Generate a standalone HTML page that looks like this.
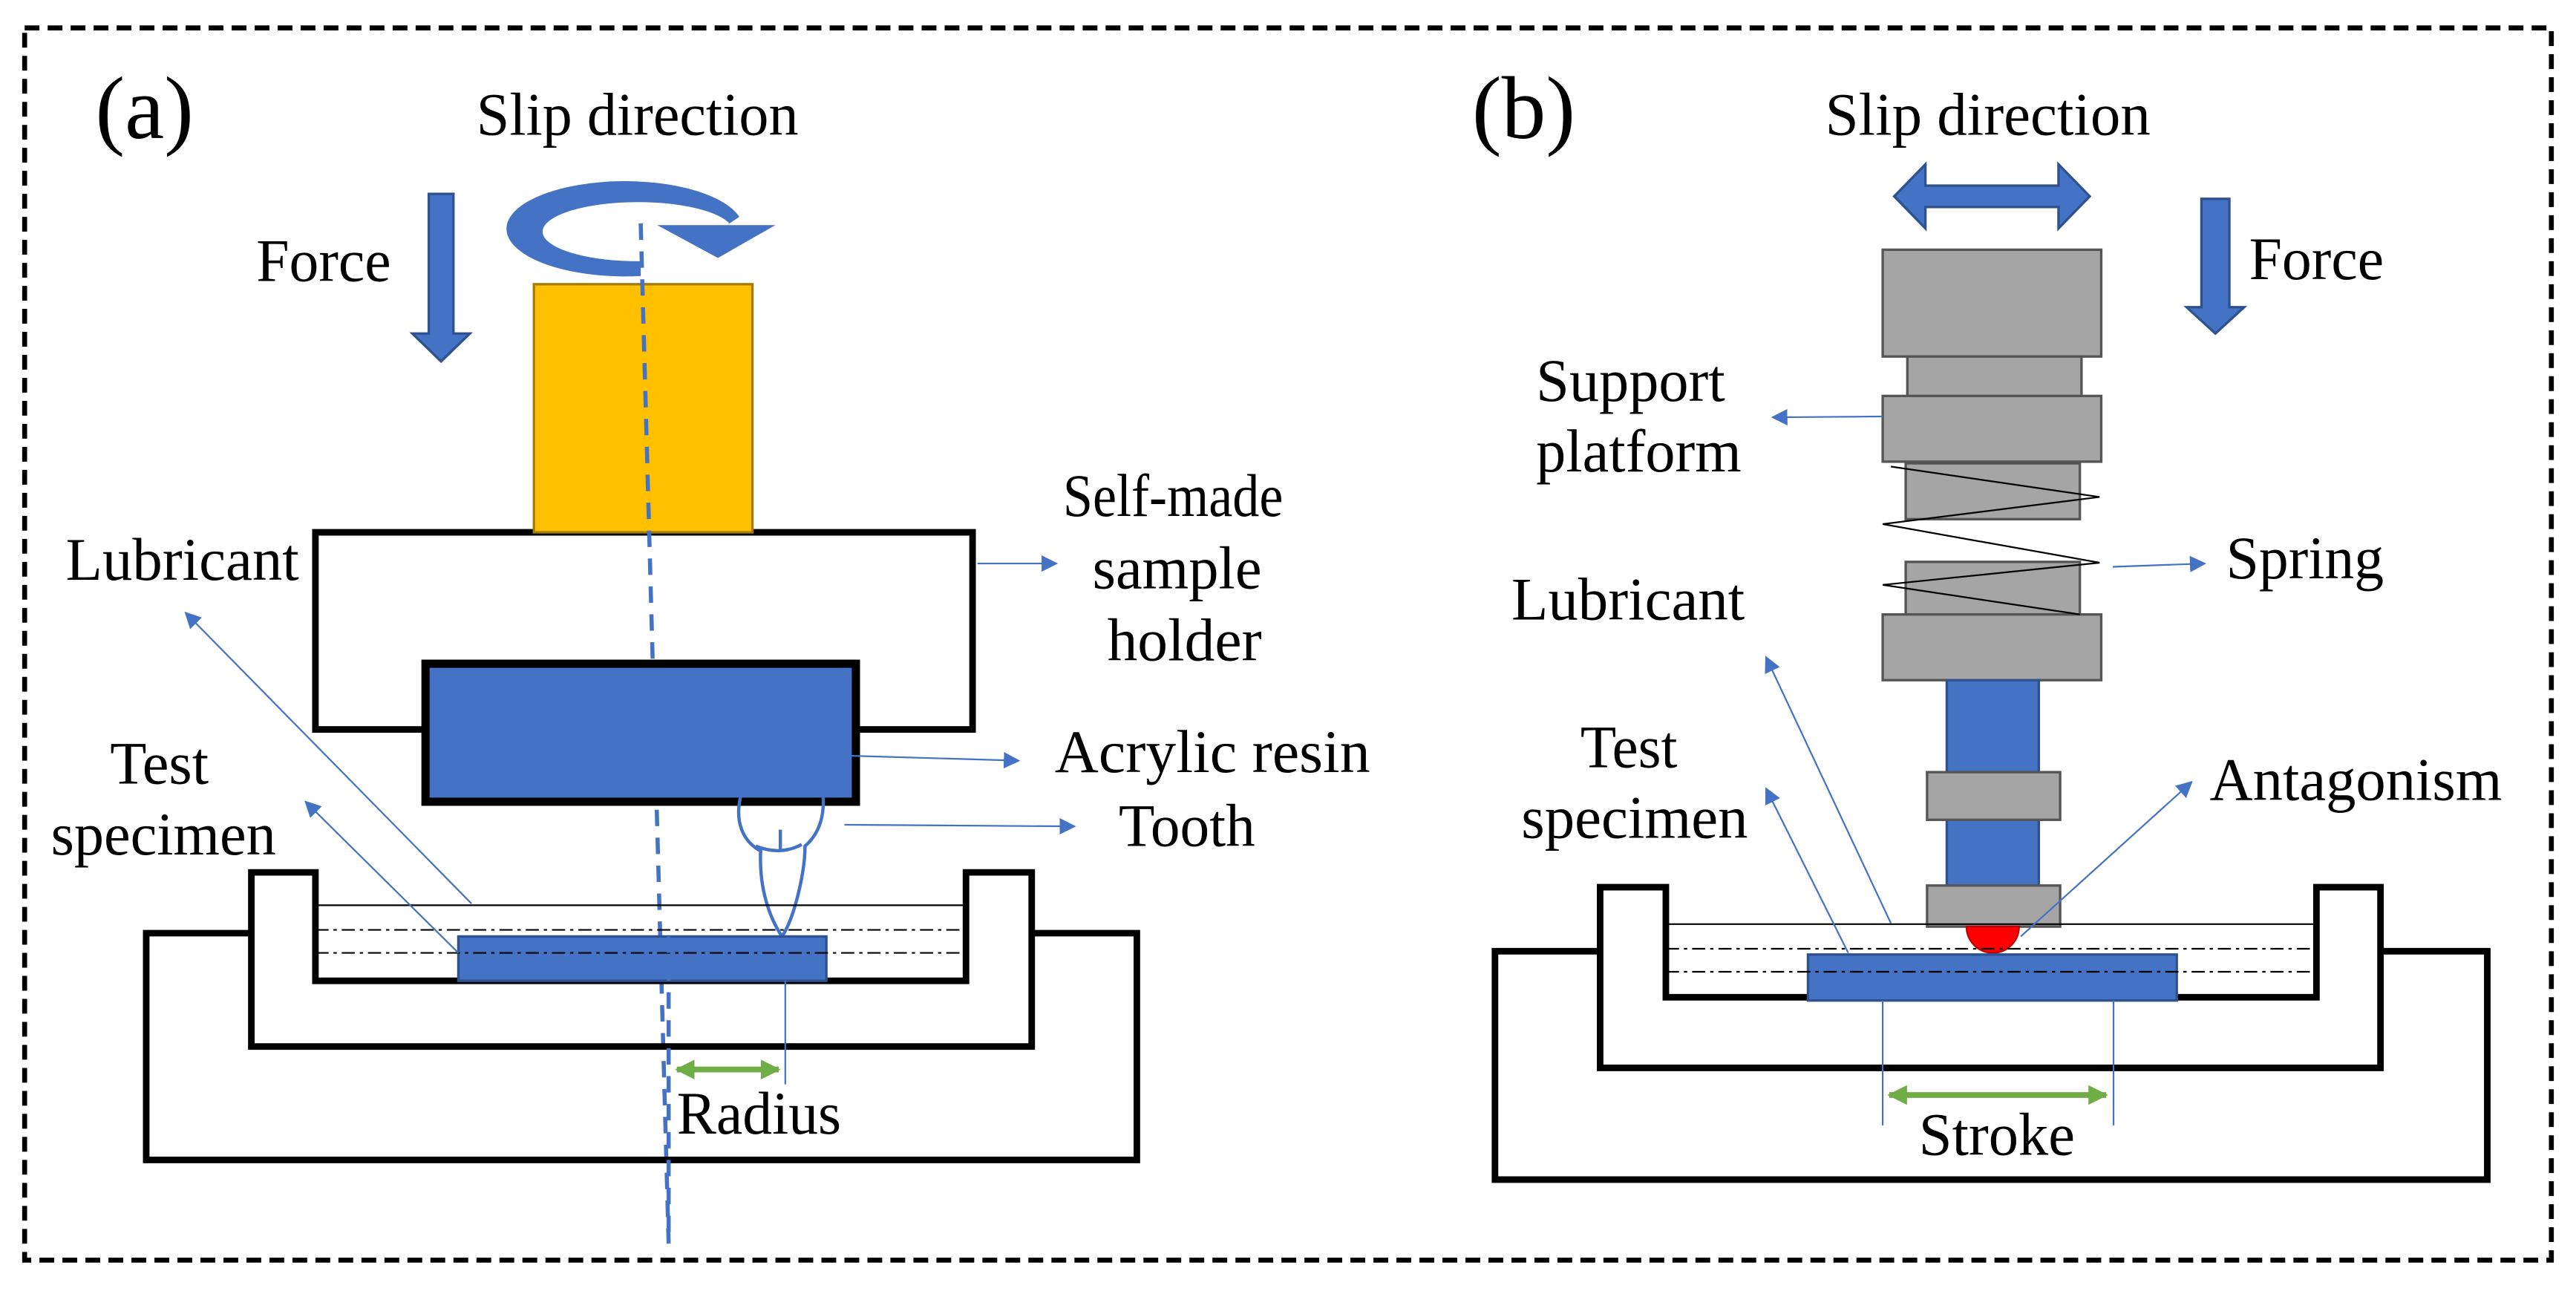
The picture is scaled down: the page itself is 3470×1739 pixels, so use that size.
<!DOCTYPE html>
<html><head><meta charset="utf-8"><style>html,body{margin:0;padding:0;background:#fff}svg{display:block}text{font-family:"Liberation Serif",serif}</style></head>
<body>
<svg width="3470" height="1739" viewBox="0 0 1568 785.8" xmlns="http://www.w3.org/2000/svg" font-family="'Liberation Serif', serif" font-size="37">
<defs>
<marker id="ab" viewBox="0 0 10 10" refX="9" refY="5" markerWidth="10" markerHeight="10" markerUnits="userSpaceOnUse" orient="auto"><path d="M0,0 L10,5 L0,10 z" fill="#4472C4"/></marker>
<marker id="ag" viewBox="0 0 10 10" refX="9" refY="5" markerWidth="12" markerHeight="12" markerUnits="userSpaceOnUse" orient="auto-start-reverse"><path d="M0,0 L10,5 L0,10 z" fill="#70AD47"/></marker>
</defs>
<rect x="15" y="17" width="1538" height="750" fill="none" stroke="#000" stroke-width="3" stroke-dasharray="9,5"/>

<!-- ===== Panel (a) ===== -->
<text x="58" y="84" font-size="54">(a)</text>
<text x="290" y="82" textLength="196" lengthAdjust="spacingAndGlyphs">Slip direction</text>
<text x="156" y="171" textLength="82" lengthAdjust="spacingAndGlyphs">Force</text>
<path d="M261,118 H276 V203 H286 L268.5,220 L251,203 H261 Z" fill="#4472C4" stroke="#2F528F" stroke-width="1.5"/>
<path d="M390,168 A72,29 0 1,1 450,132 L444,136 A58,18 0 1,0 390,159 Z" fill="#4472C4"/>
<path d="M400,137 L472,137 L437,157 Z" fill="#4472C4"/>
<rect x="192" y="324" width="400" height="120" fill="#fff" stroke="#000" stroke-width="4"/>
<rect x="325" y="173" width="133" height="151" fill="#FFC000" stroke="#A57C00" stroke-width="1.5"/>
<line x1="390" y1="136" x2="407" y2="757" stroke="#4472C4" stroke-width="2.5" stroke-dasharray="10,7"/>
<rect x="259" y="404" width="262" height="84" fill="#4472C4" stroke="#000" stroke-width="5"/>
<g fill="none" stroke="#4472C4" stroke-width="2">
<path d="M451,484 C447,500 452,512 463,518 C462,540 468,558 476,570 C484,558 490,530 490,515 C498,508 502,498 501,484"/>
<path d="M460,515 Q475,521 488,514"/><path d="M475,505 L475,518"/>
</g>
<polyline points="153,568 89,568 89,706 692,706 692,568 628,568" fill="none" stroke="#000" stroke-width="4"/>
<polygon points="153,531 192,531 192,597 588,597 588,531 628,531 628,637 153,637" fill="none" stroke="#000" stroke-width="4"/>
<line x1="192" y1="551" x2="588" y2="551" stroke="#000" stroke-width="1"/>
<rect x="279" y="570" width="224" height="27" fill="#4472C4" stroke="#2F528F" stroke-width="1.5"/>
<g stroke="#000" stroke-width="1" stroke-dasharray="8,3,2,3"><line x1="192" y1="566" x2="588" y2="566"/><line x1="192" y1="580" x2="588" y2="580"/></g>
<line x1="407" y1="570" x2="407" y2="757" stroke="#4472C4" stroke-width="2.5" stroke-dasharray="10,7"/>
<line x1="478" y1="597" x2="478" y2="660" stroke="#4472C4" stroke-width="1"/>
<line x1="412" y1="651" x2="474" y2="651" stroke="#70AD47" stroke-width="3.5" marker-start="url(#ag)" marker-end="url(#ag)"/>
<text x="412" y="690" textLength="100" lengthAdjust="spacingAndGlyphs">Radius</text>
<text x="40" y="353" textLength="142" lengthAdjust="spacingAndGlyphs">Lubricant</text>
<text x="67" y="477" textLength="60" lengthAdjust="spacingAndGlyphs">Test</text>
<text x="31" y="520" textLength="137" lengthAdjust="spacingAndGlyphs">specimen</text>
<text x="647" y="314" textLength="134" lengthAdjust="spacingAndGlyphs">Self-made</text>
<text x="665" y="358" textLength="103" lengthAdjust="spacingAndGlyphs">sample</text>
<text x="674" y="402" textLength="94" lengthAdjust="spacingAndGlyphs">holder</text>
<text x="642" y="470" textLength="192" lengthAdjust="spacingAndGlyphs">Acrylic resin</text>
<text x="681" y="515" textLength="83" lengthAdjust="spacingAndGlyphs">Tooth</text>
<g stroke="#4472C4" stroke-width="1" fill="none" marker-end="url(#ab)">
<line x1="287" y1="550" x2="113" y2="373"/>
<line x1="279" y1="580" x2="186" y2="488"/>
<line x1="595" y1="343" x2="643" y2="343"/>
<line x1="517" y1="460" x2="620" y2="463"/>
<line x1="514" y1="502" x2="654" y2="503"/>
</g>

<!-- ===== Panel (b) ===== -->
<text x="896" y="84" font-size="54">(b)</text>
<text x="1111" y="82" textLength="198" lengthAdjust="spacingAndGlyphs">Slip direction</text>
<path d="M1153,119.5 L1172,100 V113 H1253 V100 L1272,119.5 L1253,139 V126 H1172 V139 Z" fill="#4472C4" stroke="#2F528F" stroke-width="1.5"/>
<path d="M1340,121 H1357 V187 H1366 L1348.5,203 L1331,187 H1340 Z" fill="#4472C4" stroke="#2F528F" stroke-width="1.5"/>
<text x="1369" y="170" textLength="82" lengthAdjust="spacingAndGlyphs">Force</text>
<g fill="#A5A5A5" stroke="#555" stroke-width="1.5">
<rect x="1146" y="152" width="133" height="65"/>
<rect x="1161" y="217" width="106" height="26"/>
<rect x="1146" y="241" width="133" height="40"/>
<rect x="1160" y="282" width="106" height="34"/>
<rect x="1160" y="342" width="106" height="33"/>
<rect x="1146" y="374" width="133" height="40"/>
</g>
<rect x="1185" y="414" width="56" height="126" fill="#4472C4" stroke="#2F528F" stroke-width="1.5"/>
<g fill="#A5A5A5" stroke="#555" stroke-width="1.5">
<rect x="1173" y="470" width="81" height="29"/>
<rect x="1173" y="539" width="81" height="25"/>
</g>
<polyline points="1151,284 1278,302.5 1146,319 1278,342.5 1146,356 1266,374" fill="none" stroke="#000" stroke-width="1"/>
<path d="M1197,564 A16,16 0 0,0 1229,564 Z" fill="#FF0000" stroke="#C00000" stroke-width="1"/>
<polyline points="974,579 910,579 910,718 1514,718 1514,579 1449,579" fill="none" stroke="#000" stroke-width="4"/>
<polygon points="974,540 1014,540 1014,607 1410,607 1410,540 1449,540 1449,650 974,650" fill="none" stroke="#000" stroke-width="4"/>
<line x1="1014" y1="562.5" x2="1410" y2="562.5" stroke="#000" stroke-width="1"/>
<rect x="1100.5" y="581" width="224.5" height="28" fill="#4472C4" stroke="#2F528F" stroke-width="1.5"/>
<g stroke="#000" stroke-width="1" stroke-dasharray="8,3,2,3"><line x1="1014" y1="577.5" x2="1410" y2="577.5"/><line x1="1014" y1="591.5" x2="1410" y2="591.5"/></g>
<g stroke="#4472C4" stroke-width="1"><line x1="1146" y1="609" x2="1146" y2="685"/><line x1="1286.5" y1="609" x2="1286.5" y2="685"/></g>
<line x1="1150" y1="666.5" x2="1282" y2="666.5" stroke="#70AD47" stroke-width="3.5" marker-start="url(#ag)" marker-end="url(#ag)"/>
<text x="1168" y="703" textLength="95" lengthAdjust="spacingAndGlyphs">Stroke</text>
<text x="935" y="244" textLength="115" lengthAdjust="spacingAndGlyphs">Support</text>
<text x="935" y="287" textLength="125" lengthAdjust="spacingAndGlyphs">platform</text>
<text x="1355" y="352" textLength="96" lengthAdjust="spacingAndGlyphs">Spring</text>
<text x="920" y="377" textLength="142" lengthAdjust="spacingAndGlyphs">Lubricant</text>
<text x="962" y="467" textLength="59" lengthAdjust="spacingAndGlyphs">Test</text>
<text x="926" y="510" textLength="138" lengthAdjust="spacingAndGlyphs">specimen</text>
<text x="1345" y="487" textLength="178" lengthAdjust="spacingAndGlyphs">Antagonism</text>
<g stroke="#4472C4" stroke-width="1" fill="none" marker-end="url(#ab)">
<line x1="1146" y1="253.5" x2="1079" y2="254"/>
<line x1="1286" y1="345" x2="1342" y2="343"/>
<line x1="1151" y1="562" x2="1075" y2="400"/>
<line x1="1125" y1="580" x2="1075" y2="480"/>
<line x1="1230" y1="570" x2="1334" y2="476"/>
</g>
</svg>
</body></html>
